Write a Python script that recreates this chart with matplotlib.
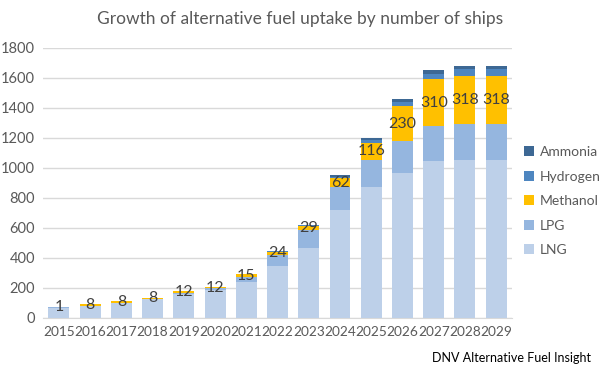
import matplotlib.pyplot as plt
import numpy as np

# values
years = ["2015", "2016", "2017", "2018", "2019", "2020", "2021", "2022",
         "2023", "2024", "2025", "2026", "2027", "2028", "2029"]
lng = [66, 79, 98, 122, 158, 185, 240, 347, 465, 716, 873, 963, 1045, 1053, 1053]
lpg = [4, 2, 3, 3, 8, 10, 33, 70, 120, 153, 178, 215, 233, 238, 238]
methanol = [1, 8, 8, 8, 12, 12, 15, 24, 29, 62, 116, 230, 310, 318, 318]
hydrogen = [0, 0, 0, 0, 0, 0, 1, 2, 3, 10, 18, 32, 36, 46, 46]
ammonia = [0, 0, 0, 0, 0, 0, 0, 0, 2, 8, 12, 20, 24, 24, 24]

series = [
    ("LNG", lng, "#bdd0e9"),
    ("LPG", lpg, "#95b6df"),
    ("Methanol", methanol, "#ffc000"),
    ("Hydrogen", hydrogen, "#4e86c0"),
    ("Ammonia", ammonia, "#3d6894"),
]

plt.rcParams["font.family"] = ["Lato", "DejaVu Sans"]

fig = plt.figure(figsize=(6, 3.69), dpi=100)
ax = fig.add_axes([0.0722, 0.139, 0.7808, 0.732])

x = np.arange(len(years))
bottom = np.zeros(len(years))
bars = {}
for name, vals, color in series:
    bars[name] = ax.bar(x, vals, 0.67, bottom=bottom, color=color,
                        label=name, zorder=3)
    bottom += np.array(vals)

ax.bar_label(bars["Methanol"], labels=[str(v) for v in methanol],
             label_type="center", fontsize=11.5, color="#404040", zorder=4)

ax.set_xlim(-0.5, len(years) - 0.5)
ax.set_ylim(0, 1800)
ax.set_yticks(np.arange(0, 1801, 200))
ax.set_xticks(x)
ax.set_xticklabels(years)
ax.tick_params(length=0, labelsize=10.5, colors="#595959", pad=6)
ax.tick_params(axis="x", labelsize=9.8)
ax.grid(True, axis="y", color="#d9d9d9", linewidth=1, zorder=0)
for side in ["left", "right", "top"]:
    ax.spines[side].set_visible(False)
ax.spines["bottom"].set_color("#d9d9d9")

fig.text(0.5, 0.948, "Growth of alternative fuel uptake by number of ships",
         ha="center", va="center", fontsize=12.5, color="#595959")

handles, labels = ax.get_legend_handles_labels()
ax.legend(handles[::-1], labels[::-1], loc="center left",
          bbox_to_anchor=(1.0, 0.432), frameon=False, fontsize=10,
          labelcolor="#595959", handlelength=0.7, handleheight=0.7,
          handletextpad=0.4, labelspacing=0.9)

fig.text(0.985, 0.03, "DNV Alternative Fuel Insight", ha="right",
         va="center", fontsize=9, color="#000000")

fig.savefig("out.png", dpi=100)
